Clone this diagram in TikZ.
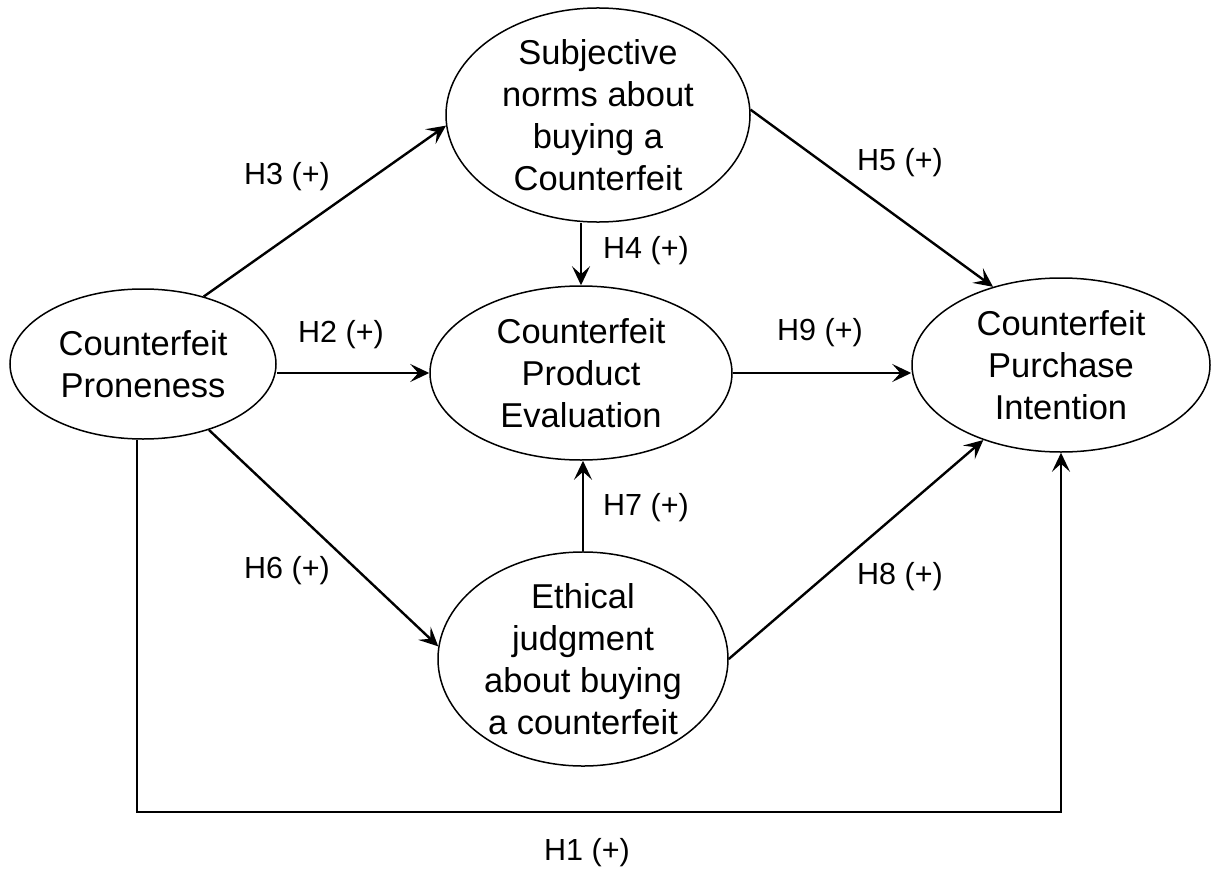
\documentclass[tikz,border=0pt]{standalone}
\usepackage{fontspec}
\setmainfont{Liberation Sans}
\usetikzlibrary{shapes.geometric,arrows.meta}
\begin{document}
\begin{tikzpicture}[x=1pt,y=-1pt,
  construct/.style={ellipse,draw,line width=1.5pt,inner sep=0pt,align=center,
    font=\fontsize{34.5}{42}\selectfont},
  arr/.style={line width=2.4pt,-{Stealth[length=19pt,width=18pt,inset=8pt]}},
  hyp/.style={font=\fontsize{30.5}{34}\selectfont}]
\useasboundingbox (0,0) rectangle (1213,875);
\node[construct,minimum width=266pt,minimum height=150pt] (cp) at (143,364) {Counterfeit\\Proneness};
\node[construct,minimum width=304pt,minimum height=212pt] (sn) at (598,115) {Subjective\\norms about\\buying a\\Counterfeit};
\node[construct,minimum width=302pt,minimum height=174pt] (cpe) at (581,373) {Counterfeit\\Product\\Evaluation};
\node[construct,minimum width=298pt,minimum height=174pt] (cpi) at (1061,365) {Counterfeit\\Purchase\\Intention};
\node[construct,minimum width=290pt,minimum height=212pt] (ej) at (583,659) {Ethical\\judgment\\about buying\\a counterfeit};
\coordinate (h1y) at (0,812);
% connectors
\draw[arr] (cp.48) -- (sn.184);
\draw[arr] (cp.east |- cpe.west) -- (cpe.west);
\draw[arr] (cp.-45) -- (ej.175);
\draw[arr] (sn.south -| cpe.north) -- (cpe.north);
\draw[arr] (sn.2) -- (cpi.131);
\draw[arr] (cpe.east) -- (cpe.east -| cpi.west);
\draw[arr] (ej.north) -- (ej.north |- cpe.south);
\draw[arr] (ej.east) -- (cpi.224);
\draw[arr] ([xshift=-6pt]cp.south) -- ([xshift=-6pt]cp.south |- h1y) -| (cpi.south);
% labels
\node[hyp] (l3) at (287,177) {H3 (+)};
\node[hyp] (l2) at (341,335) {H2 (+)};
\node[hyp] (l6) at (287,571) {H6 (+)};
\node[hyp] (l4) at (646,251) {H4 (+)};
\node[hyp] (l5) at (900,163) {H5 (+)};
\node[hyp] (l9) at (820,333) {H9 (+)};
\node[hyp] (l7) at (646,508) {H7 (+)};
\node[hyp] (l8) at (900,577) {H8 (+)};
\node[hyp] (l1) at (587,853) {H1 (+)};
\end{tikzpicture}
\end{document}
